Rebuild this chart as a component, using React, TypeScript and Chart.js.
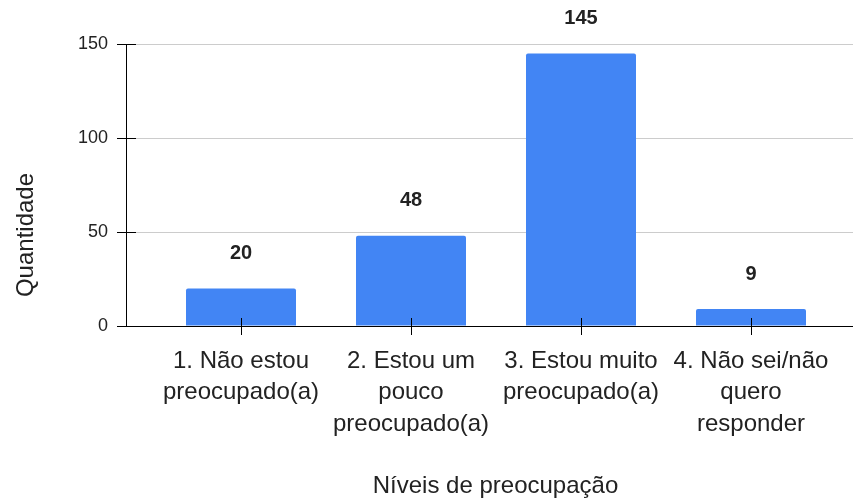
import React, { useEffect, useRef } from "react";
import { Chart, registerables } from "chart.js";

Chart.register(...registerables);

const categories: string[][] = [
  ["1. Não estou", "preocupado(a)"],
  ["2. Estou um", "pouco", "preocupado(a)"],
  ["3. Estou muito", "preocupado(a)"],
  ["4. Não sei/não", "quero", "responder"],
];
const values: number[] = [20, 48, 145, 9];
const yTicks: number[] = [0, 50, 100, 150];
const yTitle = "Quantidade";
const xTitle = "Níveis de preocupação";

const FONT = "'Liberation Sans', Arial, sans-serif";
const TEXT = "#222222";
const BAR = "#4285F4";

const overlay = {
  id: "overlay",
  afterDatasetsDraw(chart: any) {
    const ctx = chart.ctx;
    const area = chart.chartArea;
    const xs = chart.scales.x;
    const ys = chart.scales.y;
    ctx.save();
    // data labels
    ctx.font = `bold 20px ${FONT}`;
    ctx.fillStyle = TEXT;
    ctx.textAlign = "center";
    ctx.textBaseline = "middle";
    const meta = chart.getDatasetMeta(0);
    meta.data.forEach((el: any, i: number) => {
      ctx.fillText(String(values[i]), el.x, el.y - 35);
    });
    // tick marks
    ctx.strokeStyle = "#000";
    ctx.lineWidth = 1;
    ctx.beginPath();
    xs.ticks.forEach((t: any) => {
      const px = Math.round(xs.getPixelForValue(t.value)) + 0.5;
      ctx.moveTo(px, area.bottom - 8);
      ctx.lineTo(px, area.bottom + 9);
    });
    ys.ticks.forEach((t: any) => {
      const py = Math.round(ys.getPixelForValue(t.value)) + 0.5;
      ctx.moveTo(area.left - 9, py);
      ctx.lineTo(area.left + 10, py);
    });
    ctx.stroke();
    // x title
    ctx.font = `24px ${FONT}`;
    ctx.fillStyle = TEXT;
    ctx.fillText(xTitle, (area.left + area.right) / 2 + 6, xs.bottom - 16);
    // y title
    ctx.translate(26, area.bottom - 91);
    ctx.rotate(-Math.PI / 2);
    ctx.fillText(yTitle, 0, 0);
    ctx.restore();
  },
};

export default function App() {
  const ref = useRef<HTMLCanvasElement | null>(null);
  useEffect(() => {
    document.body.style.margin = "0";
    const canvas = ref.current!;
    const chart = new Chart(canvas, {
      type: "bar",
      data: {
        datasets: [
          {
            data: values.map((v, i) => ({ x: i, y: v })),
            backgroundColor: BAR,
            borderRadius: 2,
            borderSkipped: "start",
            categoryPercentage: 1,
            barPercentage: 110 / 170,
          },
        ],
      },
      options: {
        responsive: false,
        animation: false,
        layout: { padding: { top: 44, right: 0, bottom: 0, left: 0 } },
        plugins: {
          legend: { display: false },
          tooltip: { enabled: false },
        },
        scales: {
          x: {
            type: "linear",
            offset: false,
            min: -0.6765,
            max: 3.6,
            z: 1,
            afterFit: (s: any) => {
              s.height = 176;
            },
            afterBuildTicks: (axis: any) => {
              axis.ticks = categories.map((_, i) => ({ value: i }));
            },
            grid: { display: true, drawOnChartArea: false, drawTicks: false },
            border: { display: true, color: "#000", width: 1 },
            ticks: {
              autoSkip: false,
              maxRotation: 0,
              minRotation: 0,
              padding: 20,
              color: TEXT,
              font: { family: FONT, size: 24, lineHeight: 1.3 },
              callback: (v: any) => categories[v as number] ?? "",
            },
          },
          y: {
            min: 0,
            max: 150,
            afterFit: (s: any) => {
              s.width = 126;
            },
            afterBuildTicks: (axis: any) => {
              axis.ticks = yTicks.map((v) => ({ value: v }));
            },
            grid: { color: "#cccccc", drawTicks: false },
            border: { display: true, color: "#000", width: 1 },
            ticks: {
              padding: 18,
              color: TEXT,
              font: { family: FONT, size: 18 },
            },
          },
        },
      },
      plugins: [overlay],
    });
    return () => chart.destroy();
  }, []);
  return (
    <div style={{ width: 853, height: 502 }}>
      <canvas ref={ref} width={853} height={502} />
    </div>
  );
}
